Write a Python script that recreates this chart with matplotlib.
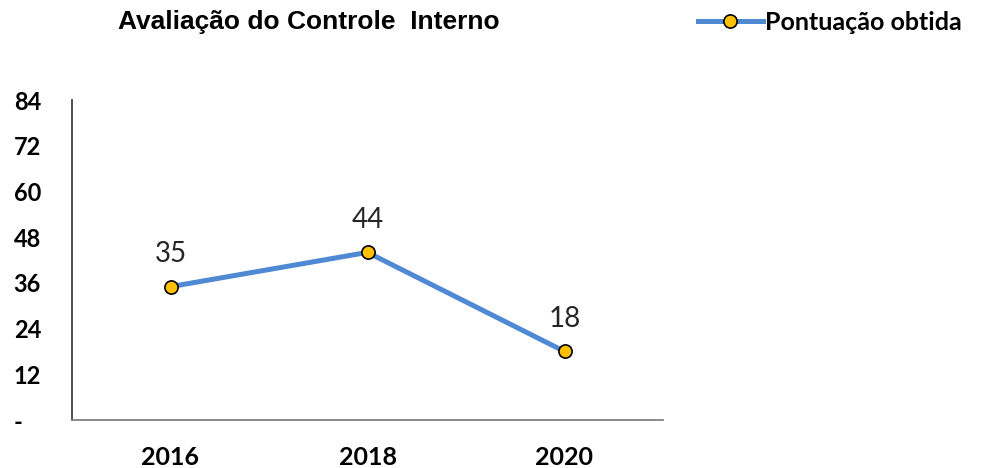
import numpy as np
import matplotlib.pyplot as plt

anos = ['2016', '2018', '2020']
pontuacao = [35, 44, 18]
yticks = [0, 12, 24, 36, 48, 60, 72, 84]
ytick_labels = ['-', '12', '24', '36', '48', '60', '72', '84']

fig = plt.figure(figsize=(9.81, 4.68), dpi=100)
ax = fig.add_axes([72 / 981, 1 - 420 / 468, (663 - 72) / 981, 320 / 468])

x = np.arange(len(anos))
ax.plot(x, pontuacao, color='#4F88D3', linewidth=3.6, marker='o',
        markersize=9.5, markerfacecolor='#FFC000', markeredgecolor='black',
        markeredgewidth=1.2, label='Pontuação obtida', zorder=3)

for xi, v in zip(x, pontuacao):
    ax.annotate(str(v), (xi, v), xytext=(0, 14), textcoords='offset points',
                ha='center', va='bottom', fontsize=20, family='Lato', color='#262626')

ax.set_xlim(-0.5, len(anos) - 0.5)
ax.set_ylim(0, 84)
ax.set_xticks(x)
ax.set_xticklabels(anos, fontsize=18, fontweight='bold', family='Lato')
ax.set_yticks(yticks)
ax.set_yticklabels(ytick_labels, fontsize=17, fontweight='bold', family='Lato')
ax.tick_params(length=0)
ax.tick_params(axis='y', pad=42)
ax.tick_params(axis='x', pad=19)
for lbl in ax.get_yticklabels():
    lbl.set_horizontalalignment('left')

ax.spines['top'].set_visible(False)
ax.spines['right'].set_visible(False)
ax.spines['left'].set_color('#404040')
ax.spines['bottom'].set_color('#808080')
ax.spines['left'].set_linewidth(1.3)
ax.spines['bottom'].set_linewidth(1.3)

fig.text(118 / 981, 1 - 22 / 468, 'Avaliação do Controle  Interno', fontsize=19,
         fontweight='bold', family='Liberation Sans', va='center', ha='left')

fig.legend(loc='center right', bbox_to_anchor=(972 / 981, 1 - 22 / 468), frameon=False,
           prop={'family': 'Lato', 'weight': 'bold', 'size': 18},
           handlelength=2.6, handletextpad=0.1, borderaxespad=0)

fig.savefig('out.png', dpi=100)
